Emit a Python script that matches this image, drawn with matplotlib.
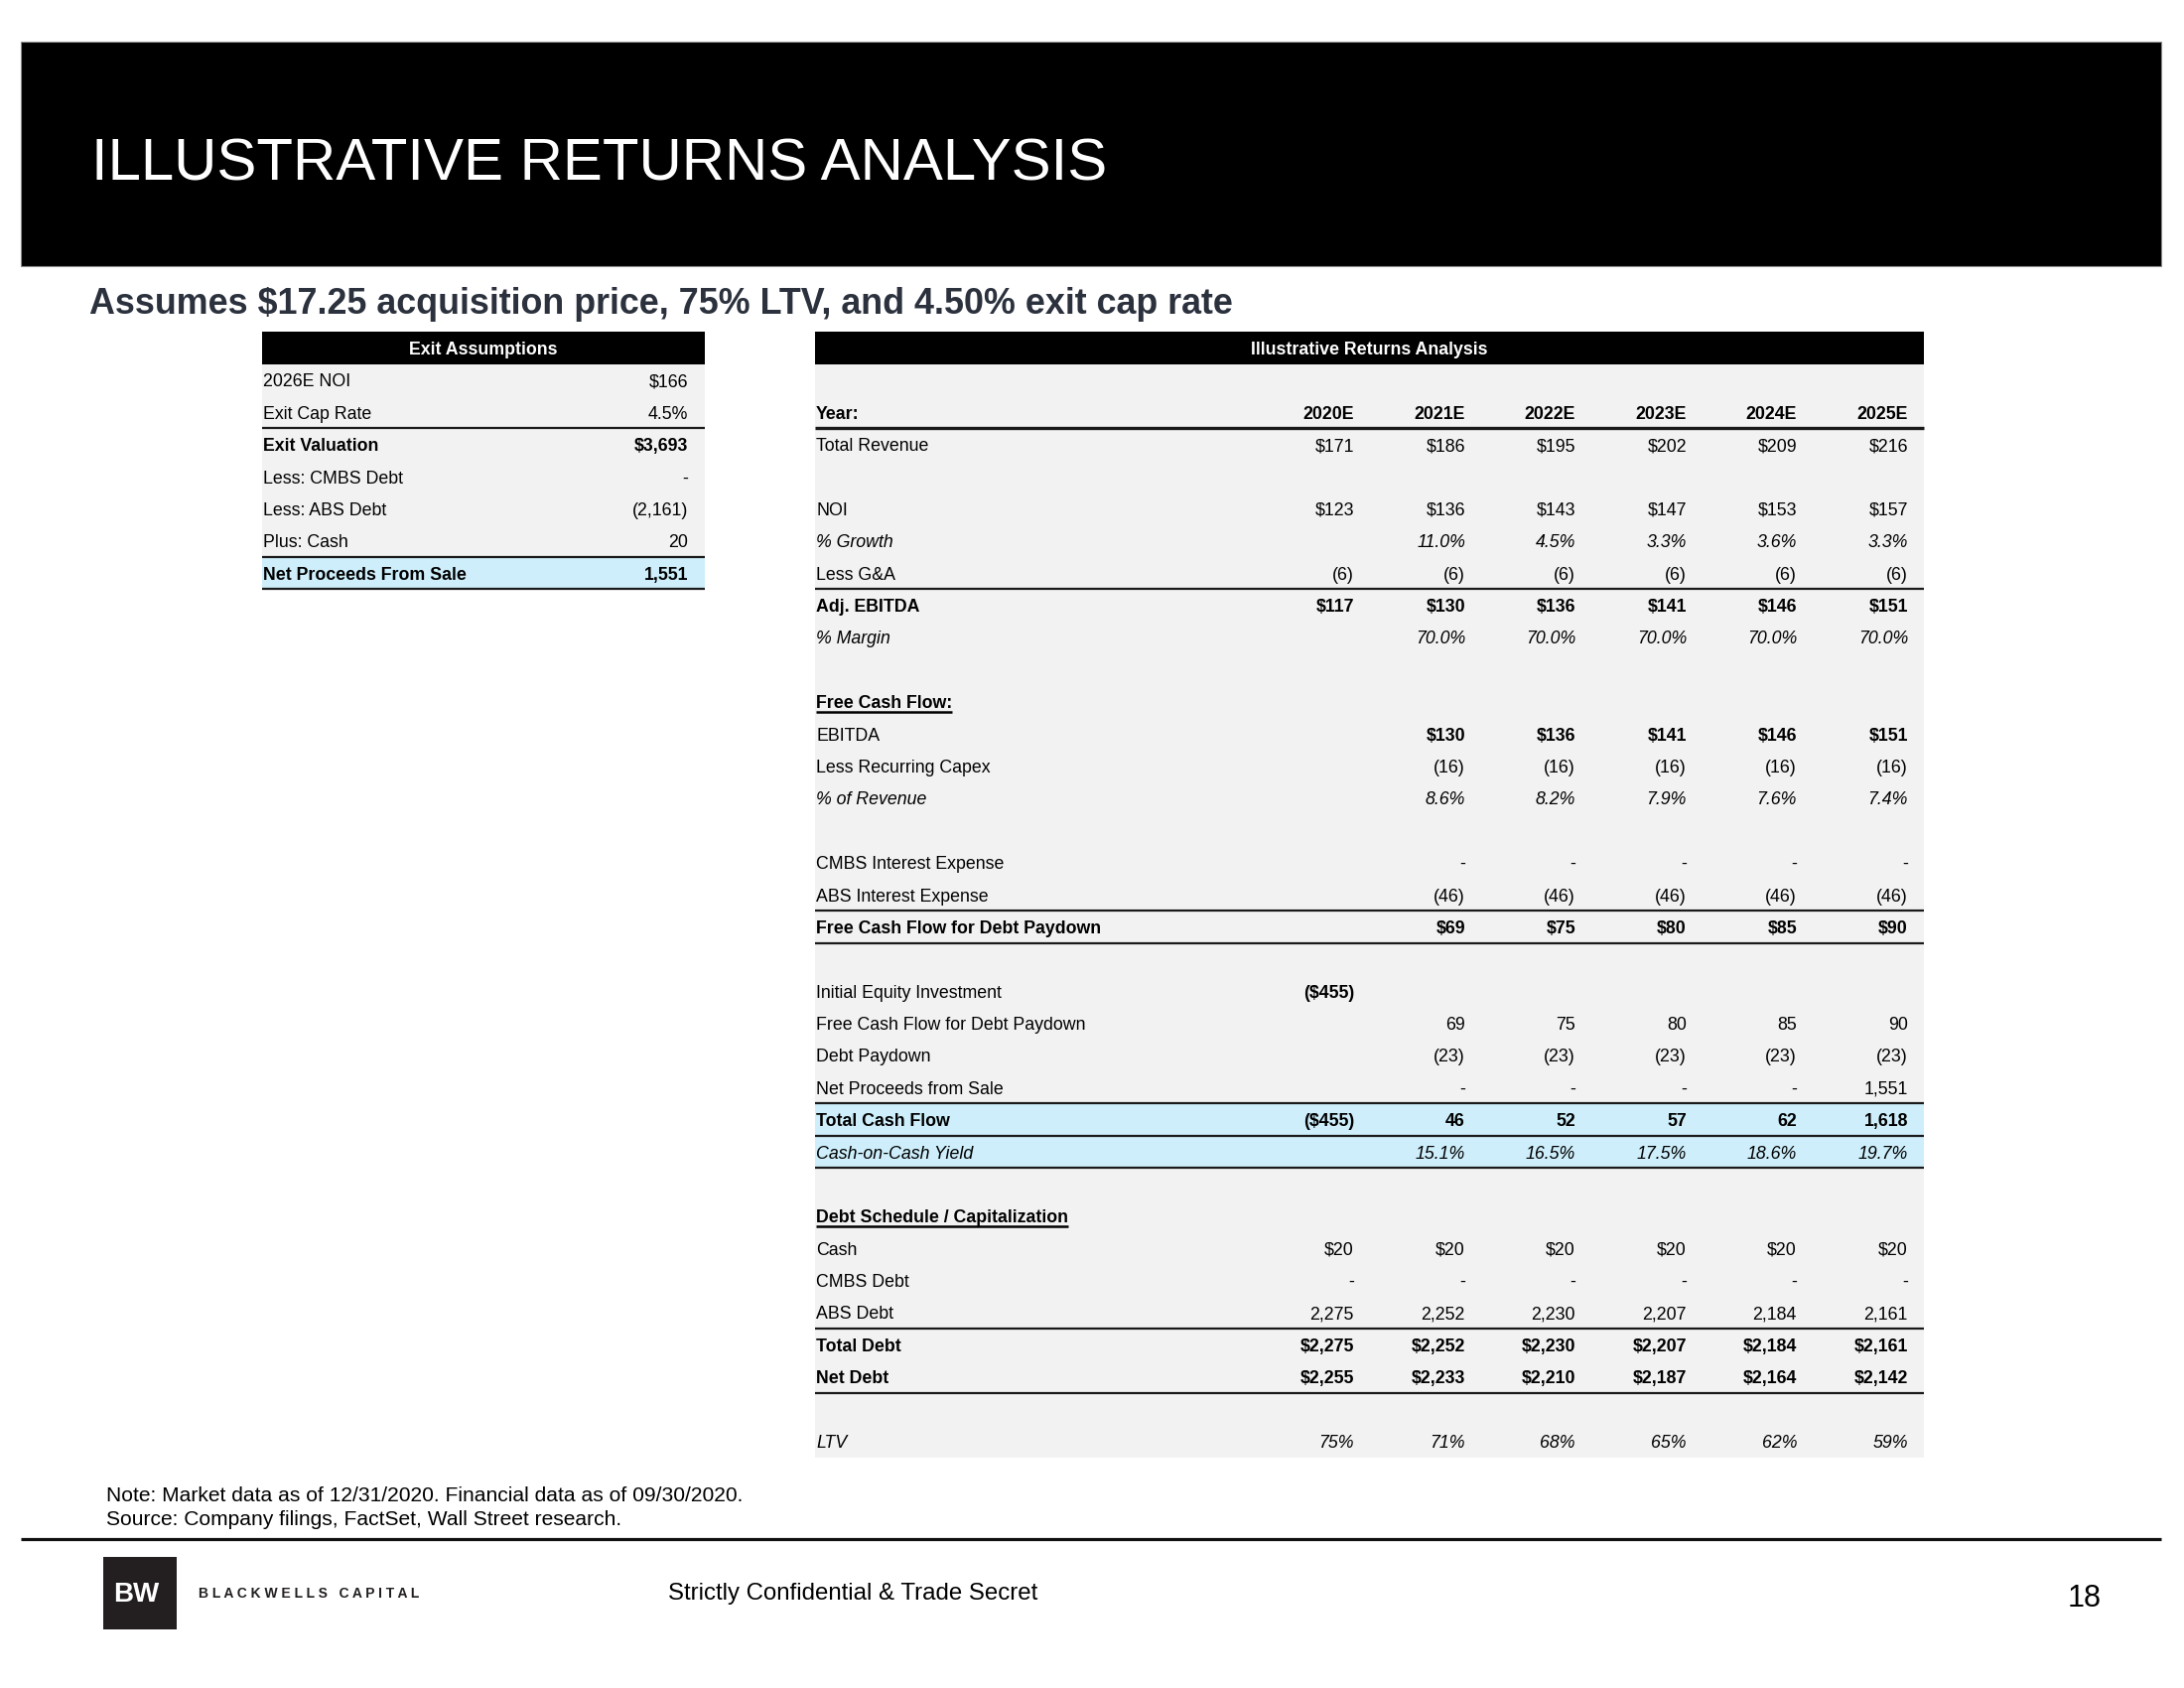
import matplotlib
matplotlib.use("Agg")
import matplotlib.pyplot as plt
from matplotlib.patches import Rectangle

plt.rcParams['font.family'] = ['Liberation Sans', 'DejaVu Sans']

# ---------------- data ----------------
title = "ILLUSTRATIVE RETURNS ANALYSIS"
subtitle = "Assumes $17.25 acquisition price, 75% LTV, and 4.50% exit cap rate"

exit_labels = ["2026E NOI", "Exit Cap Rate", "Exit Valuation", "Less: CMBS Debt",
               "Less: ABS Debt", "Plus: Cash", "Net Proceeds From Sale"]
exit_values = [166, 4.5, 3693, 0, -2161, 20, 1551]

years = ["2020E", "2021E", "2022E", "2023E", "2024E", "2025E"]
total_revenue = [171, 186, 195, 202, 209, 216]
noi = [123, 136, 143, 147, 153, 157]
noi_growth = [None, 11.0, 4.5, 3.3, 3.6, 3.3]
less_ga = [-6, -6, -6, -6, -6, -6]
adj_ebitda = [117, 130, 136, 141, 146, 151]
ebitda_margin = [None, 70.0, 70.0, 70.0, 70.0, 70.0]
ebitda = [None, 130, 136, 141, 146, 151]
recurring_capex = [None, -16, -16, -16, -16, -16]
capex_pct_revenue = [None, 8.6, 8.2, 7.9, 7.6, 7.4]
cmbs_interest = [None, 0, 0, 0, 0, 0]
abs_interest = [None, -46, -46, -46, -46, -46]
fcf_debt_paydown = [None, 69, 75, 80, 85, 90]
initial_equity = [-455, None, None, None, None, None]
debt_paydown = [None, -23, -23, -23, -23, -23]
net_proceeds_sale = [None, 0, 0, 0, 0, 1551]
total_cash_flow = [-455, 46, 52, 57, 62, 1618]
cash_on_cash = [None, 15.1, 16.5, 17.5, 18.6, 19.7]
cash = [20, 20, 20, 20, 20, 20]
cmbs_debt = [0, 0, 0, 0, 0, 0]
abs_debt = [2275, 2252, 2230, 2207, 2184, 2161]
total_debt = [2275, 2252, 2230, 2207, 2184, 2161]
net_debt = [2255, 2233, 2210, 2187, 2164, 2142]
ltv = [75, 71, 68, 65, 62, 59]

note_lines = ["Note: Market data as of 12/31/2020. Financial data as of 09/30/2020.",
              "Source: Company filings, FactSet, Wall Street research."]
footer_text = "Strictly Confidential & Trade Secret"
page_number = "18"


# ---------------- formatting ----------------
def money(v):
    if v is None:
        return ""
    if v == 0:
        return "-"
    if v < 0:
        return f"(${-v:,})"
    return f"${v:,}"


def num(v):
    if v is None:
        return ""
    if v == 0:
        return "-"
    if v < 0:
        return f"({-v:,})"
    return f"{v:,}"


def cf(v):
    if v is None:
        return ""
    return money(v) if v < 0 else num(v)


def pct1(v):
    return "" if v is None else f"{v:.1f}%"


def pct0(v):
    return "" if v is None else f"{v:.0f}%"


def txt(v):
    return "" if v is None else str(v)


# ---------------- figure ----------------
W, H = 2200, 1700
fig = plt.figure(figsize=(22, 17), dpi=100)
ax = fig.add_axes([0, 0, 1, 1])
ax.set_xlim(0, W)
ax.set_ylim(H, 0)
ax.axis("off")

GRAY = "#f2f2f2"
CYAN = "#cdeefa"
FS = 12.8
HFS = 12.8
BOFF = 6.5  # baseline offset from row centre

# header band
ax.add_patch(Rectangle((21, 42), 2156, 226, facecolor="black", edgecolor="#888888", lw=0.8))
ax.text(92, 181, title, color="white", fontsize=43.2, va="baseline", ha="left")
ax.text(90, 316, subtitle, color="#2b313d", fontsize=25.8, fontweight="bold", va="baseline", ha="left")

ROW0 = 415.3
RH = 32.38


def yc(r):
    return ROW0 + r * RH


def ytop(r):
    return ROW0 + (r - 0.5) * RH


def hline(x0, x1, r_after, lw=1.6):
    y = ytop(r_after + 1)
    ax.plot([x0, x1], [y, y], color="#1a1a1a", lw=lw, solid_capstyle="butt")


# ---------------- left table ----------------
LX0, LX1 = 264, 710
LVAL = 693
ax.add_patch(Rectangle((LX0, ytop(-2)), LX1 - LX0, RH, facecolor="black", lw=0))
ax.text((LX0 + LX1) / 2, yc(-2) + BOFF, "Exit Assumptions", color="white", fontsize=HFS,
        fontweight="bold", ha="center", va="baseline")
ax.add_patch(Rectangle((LX0, ytop(-1)), LX1 - LX0, RH * 6, facecolor=GRAY, lw=0))
ax.add_patch(Rectangle((LX0, ytop(5)), LX1 - LX0, RH, facecolor=CYAN, lw=0))
exit_fmts = [money, pct1, money, num, num, num, num]
exit_bold = [False, False, True, False, False, False, True]
for i, (lab, val) in enumerate(zip(exit_labels, exit_values)):
    r = i - 1
    w = "bold" if exit_bold[i] else "normal"
    ax.text(LX0 + 1, yc(r) + BOFF, lab, fontsize=FS, fontweight=w, ha="left", va="baseline", color="black")
    ax.text(LVAL, yc(r) + BOFF, exit_fmts[i](val), fontsize=FS, fontweight=w, ha="right", va="baseline", color="black")
hline(LX0, LX1, 0)
hline(LX0, LX1, 4)
hline(LX0, LX1, 5)

# ---------------- right table ----------------
RX0, RX1 = 821, 1938
COLX = [1364, 1476, 1587, 1699, 1810, 1922]
ax.add_patch(Rectangle((RX0, ytop(-2)), RX1 - RX0, RH, facecolor="black", lw=0))
ax.text((RX0 + RX1) / 2, yc(-2) + BOFF, "Illustrative Returns Analysis", color="white", fontsize=HFS,
        fontweight="bold", ha="center", va="baseline")
ax.add_patch(Rectangle((RX0, ytop(-1)), RX1 - RX0, RH * 34, facecolor=GRAY, lw=0))
ax.add_patch(Rectangle((RX0, ytop(22)), RX1 - RX0, RH * 2, facecolor=CYAN, lw=0))

# (row, label, values, formatter, label style, value style)
rows = [
    (0, "Year:", years, txt, "bold", "bold"),
    (1, "Total Revenue", total_revenue, money, "normal", "normal"),
    (3, "NOI", noi, money, "normal", "normal"),
    (4, "% Growth", noi_growth, pct1, "italic", "italic"),
    (5, "Less G&A", less_ga, num, "normal", "normal"),
    (6, "Adj. EBITDA", adj_ebitda, money, "bold", "bold"),
    (7, "% Margin", ebitda_margin, pct1, "italic", "italic"),
    (9, "Free Cash Flow:", None, None, "boldul", None),
    (10, "EBITDA", ebitda, money, "normal", "bold"),
    (11, "Less Recurring Capex", recurring_capex, num, "normal", "normal"),
    (12, "% of Revenue", capex_pct_revenue, pct1, "italic", "italic"),
    (14, "CMBS Interest Expense", cmbs_interest, num, "normal", "normal"),
    (15, "ABS Interest Expense", abs_interest, num, "normal", "normal"),
    (16, "Free Cash Flow for Debt Paydown", fcf_debt_paydown, money, "bold", "bold"),
    (18, "Initial Equity Investment", initial_equity, money, "normal", "bold"),
    (19, "Free Cash Flow for Debt Paydown", fcf_debt_paydown, num, "normal", "normal"),
    (20, "Debt Paydown", debt_paydown, num, "normal", "normal"),
    (21, "Net Proceeds from Sale", net_proceeds_sale, num, "normal", "normal"),
    (22, "Total Cash Flow", total_cash_flow, cf, "bold", "bold"),
    (23, "Cash-on-Cash Yield", cash_on_cash, pct1, "italic", "italic"),
    (25, "Debt Schedule / Capitalization", None, None, "boldul", None),
    (26, "Cash", cash, money, "normal", "normal"),
    (27, "CMBS Debt", cmbs_debt, num, "normal", "normal"),
    (28, "ABS Debt", abs_debt, num, "normal", "normal"),
    (29, "Total Debt", total_debt, money, "bold", "bold"),
    (30, "Net Debt", net_debt, money, "bold", "bold"),
    (32, "LTV", ltv, pct0, "italic", "italic"),
]


def style_kw(s):
    if s == "bold" or s == "boldul":
        return dict(fontweight="bold")
    if s == "italic":
        return dict(fontstyle="italic")
    return {}


underlined = []
for r, lab, vals, fmt, ls, vs in rows:
    t = ax.text(RX0 + 1, yc(r) + BOFF, lab, fontsize=FS, ha="left", va="baseline", color="black", **style_kw(ls))
    if ls == "boldul":
        underlined.append((t, r))
    if vals is not None:
        for x, v in zip(COLX, vals):
            ax.text(x, yc(r) + BOFF, fmt(v), fontsize=FS, ha="right", va="baseline", color="black", **style_kw(vs))

hline(RX0, RX1, 0, lw=2.4)
for k in [5, 15, 16, 21, 22, 23, 28, 30]:
    hline(RX0, RX1, k)

fig.canvas.draw()
renderer = fig.canvas.get_renderer()
for t, r in underlined:
    bb = t.get_window_extent(renderer)
    y = yc(r) + BOFF + 4
    ax.plot([bb.x0, bb.x1], [y, y], color="black", lw=1.8, solid_capstyle="butt")

# ---------------- footer ----------------
ax.text(107, 1512, note_lines[0], fontsize=15.1, ha="left", va="baseline", color="black")
ax.text(107, 1536, note_lines[1], fontsize=15.1, ha="left", va="baseline", color="black")
ax.plot([21, 2177], [1550, 1550], color="#111111", lw=2.3, solid_capstyle="butt")

ax.add_patch(Rectangle((104, 1568), 74, 73, facecolor="#231f20", lw=0))
ax.text(114, 1613, "BW", color="white", fontsize=20, fontweight="bold", ha="left", va="baseline")
ax.text(200, 1609, "B L A C K W E L L S   C A P I T A L", color="#231f20", fontsize=10,
        fontweight="bold", ha="left", va="baseline")

ax.text(673, 1611, footer_text, fontsize=17.3, ha="left", va="baseline", color="black")
ax.text(2100, 1618, page_number, fontsize=22, ha="center", va="baseline", color="black")

fig.savefig("out.png", dpi=100, facecolor="white")
